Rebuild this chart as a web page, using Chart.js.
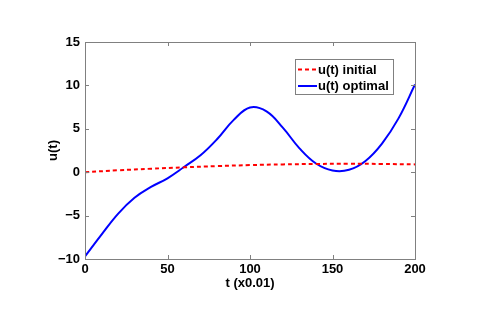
<!DOCTYPE html>
<html>
<head>
<meta charset="utf-8">
<script src="https://cdn.jsdelivr.net/npm/chart.js@4"></script>
<style>
  html, body { margin: 0; padding: 0; background: #fff; }
  #wrap { width: 485px; height: 319px; }
</style>
</head>
<body>
<div id="wrap"><canvas id="uChart" width="485" height="319"></canvas></div>
<script>
// data
const tInitial = [0, 20, 40, 60, 80, 100, 120, 140, 160, 180, 200];
const uInitial = [0, 0.22, 0.4, 0.56, 0.7, 0.82, 0.9, 0.95, 0.97, 0.95, 0.9];

const tOptimal = [0, 10, 20, 30, 40, 50, 60, 70, 80, 90, 100, 110, 120, 130, 140, 150, 160, 170, 180, 190, 200];
const uOptimal = [-9.7, -7.2, -4.8, -2.95, -1.7, -0.7, 0.6, 1.95, 3.8, 6.0, 7.45, 7.0, 5.1, 2.75, 1.0, 0.2, 0.28, 1.3, 3.3, 6.2, 10.1];

const xTicks = [0, 50, 100, 150, 200];
const yTicks = [-10, -5, 0, 5, 10, 15];

const labelFont = { family: 'Liberation Sans, Arial, sans-serif', size: 13, weight: 'bold' };
const boxColor = '#808080';

function toPoints(xs, ys) {
  return xs.map((x, i) => ({ x: x, y: ys[i] }));
}

// box around the axes with inward ticks (matlab style)
const boxPlugin = {
  id: 'boxTicks',
  afterDraw(chart) {
    const { ctx, chartArea: a, scales } = chart;
    ctx.save();
    ctx.strokeStyle = boxColor;
    ctx.lineWidth = 1;
    ctx.strokeRect(Math.round(a.left) + 0.5, Math.round(a.top) + 0.5,
      Math.round(a.right - a.left), Math.round(a.bottom - a.top));
    const len = 4;
    ctx.beginPath();
    xTicks.forEach(v => {
      const px = Math.round(scales.x.getPixelForValue(v)) + 0.5;
      ctx.moveTo(px, a.bottom); ctx.lineTo(px, a.bottom - len);
      ctx.moveTo(px, a.top); ctx.lineTo(px, a.top + len);
    });
    yTicks.forEach(v => {
      const py = Math.round(scales.y.getPixelForValue(v)) + 0.5;
      ctx.moveTo(a.left, py); ctx.lineTo(a.left + len, py);
      ctx.moveTo(a.right, py); ctx.lineTo(a.right - len, py);
    });
    ctx.stroke();

    // legend
    const lx = 295, ly = 59, lw = 98, lh = 35;
    ctx.fillStyle = '#fff';
    ctx.fillRect(lx, ly, lw, lh);
    ctx.strokeStyle = boxColor;
    ctx.strokeRect(lx + 0.5, ly + 0.5, lw, lh);
    ctx.font = 'bold 13px Liberation Sans, Arial, sans-serif';
    ctx.textBaseline = 'middle';
    ctx.textAlign = 'left';
    chart.data.datasets.forEach((ds, i) => {
      const y = ly + 10.5 + i * 16.5;
      ctx.beginPath();
      ctx.strokeStyle = ds.borderColor;
      ctx.lineWidth = 2;
      ctx.setLineDash(ds.borderDash || []);
      ctx.moveTo(lx + 3, y);
      ctx.lineTo(lx + 22, y);
      ctx.stroke();
      ctx.setLineDash([]);
      ctx.fillStyle = '#000';
      ctx.fillText(ds.label, lx + 23, y + 0.5);
    });
    ctx.restore();
  }
};

const data = {
  datasets: [{
    label: 'u(t) initial',
    data: toPoints(tInitial, uInitial),
    borderColor: '#ff0000',
    borderWidth: 2,
    borderDash: [4, 3],
    pointRadius: 0,
    tension: 0.4,
    fill: false
  }, {
    label: 'u(t) optimal',
    data: toPoints(tOptimal, uOptimal),
    borderColor: '#0000ff',
    borderWidth: 2,
    pointRadius: 0,
    tension: 0.4,
    fill: false
  }]
};

const config = {
  type: 'line',
  data,
  options: {
    responsive: false,
    animation: false,
    layout: { padding: { left: 0, right: 70, top: 42, bottom: 0 } },
    plugins: {
      legend: { display: false },
      tooltip: { enabled: false }
    },
    scales: {
      x: {
        type: 'linear',
        min: 0,
        max: 200,
        afterFit: s => { s.height = 60; },
        afterBuildTicks: s => { s.ticks = xTicks.map(v => ({ value: v })); },
        grid: { display: false, drawTicks: false },
        border: { display: false },
        ticks: { color: '#000', font: labelFont, padding: 3, maxRotation: 0 },
        title: { display: true, text: 't (x0.01)', color: '#000', font: labelFont, padding: { top: 0, bottom: 28 } }
      },
      y: {
        type: 'linear',
        min: -10,
        max: 15,
        afterFit: s => { s.width = 85; },
        afterBuildTicks: s => { s.ticks = yTicks.map(v => ({ value: v })); },
        grid: { display: false, drawTicks: false },
        border: { display: false },
        ticks: { color: '#000', font: labelFont, padding: 5,
          callback: v => v < 0 ? '\u2212' + Math.abs(v) : String(v) },
        title: { display: true, text: 'u(t)', color: '#000', font: labelFont, padding: { top: 46, bottom: 0 } }
      }
    }
  },
  plugins: [boxPlugin]
};

const uChart = new Chart(document.getElementById('uChart'), config);
</script>
</body>
</html>
